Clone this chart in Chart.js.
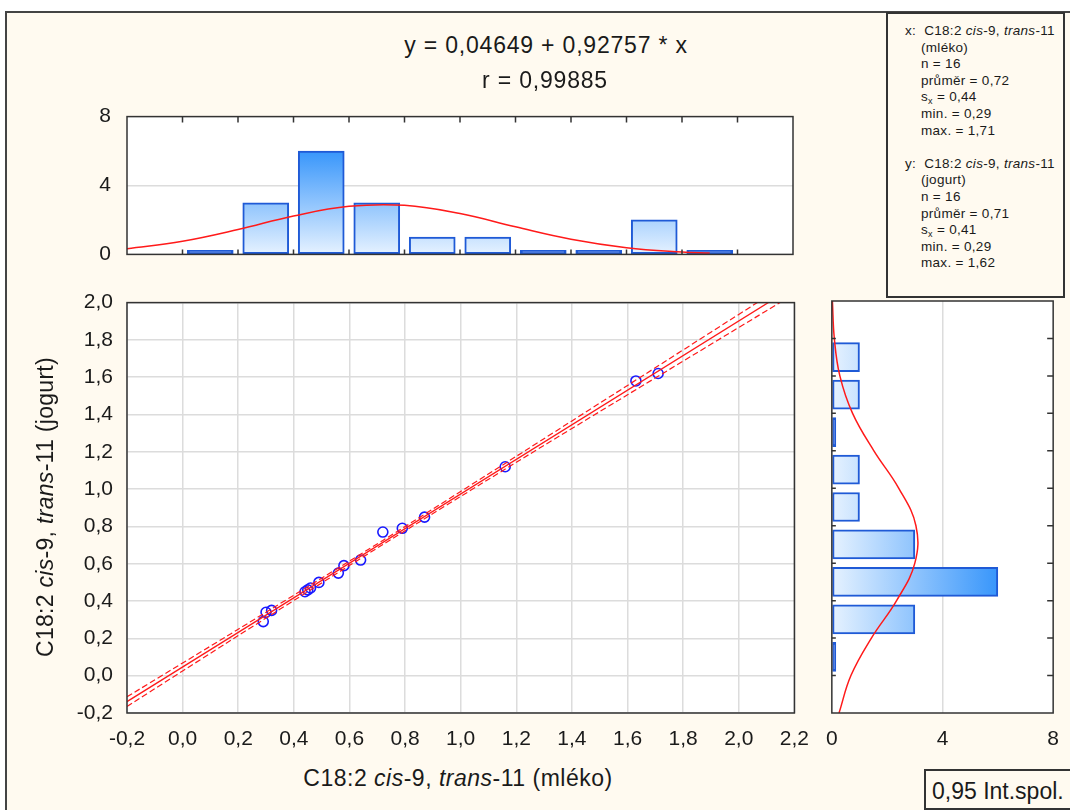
<!DOCTYPE html>
<html>
<head>
<meta charset="utf-8">
<script src="https://cdn.jsdelivr.net/npm/chart.js@4.4.1/dist/chart.umd.min.js"></script>
<style>
  body { margin: 0; width: 1070px; height: 810px; overflow: hidden; position: relative; background: #fff;
         font-family: "Liberation Sans", Arial, sans-serif; color: #1a1a1a; }
  #panel { position: absolute; left: 5px; top: 11px; width: 1070px; height: 810px; background: #fffaf0;
           border-left: 2px solid #444; border-top: 2px solid #444; }
  canvas { position: absolute; }
  .c { position: absolute; transform: translate(-50%, -50%); white-space: nowrap; }
  #stats { position: absolute; left: 886px; top: 12px; width: 175px; height: 273px; background: #fffaf0;
           border: 2px solid #333; overflow: hidden; font-size: 13.5px; letter-spacing: 0.3px; line-height: 16.6px; padding-top: 9px;
           box-sizing: content-box; }
  #stats div { white-space: nowrap; padding-left: 33px; }
  #stats div.h { padding-left: 17px; }
  #stats sub { font-size: 9px; line-height: 0; position: relative; top: 3px; vertical-align: baseline; }
  #ci { position: absolute; left: 924px; top: 769px; width: 160px; height: 41px; border: 2px solid #333;
        background: #fffaf0; font-size: 23px; line-height: 41px; padding-left: 6px; box-sizing: border-box; }
</style>
</head>
<body>
<div id="panel"></div>

<canvas id="topHist" width="763" height="195" style="left:60px;top:88px"></canvas>
<canvas id="scatter" width="763" height="484" style="left:60px;top:276px"></canvas>
<canvas id="rightHist" width="261" height="470" style="left:812px;top:290px"></canvas>

<div class="c" style="left:546px;top:45px;font-size:23px;letter-spacing:0.8px">y = 0,04649 + 0,92757 * x</div>
<div class="c" style="left:545px;top:80px;font-size:23px;letter-spacing:0.8px">r = 0,99885</div>
<div class="c" style="left:458px;top:778px;font-size:23px;letter-spacing:0.5px">C18:2 <i>cis</i>-9, <i>trans</i>-11 (mléko)</div>
<div class="c" style="left:45px;top:507px;font-size:23px;letter-spacing:0.3px;transform:translate(-50%,-50%) rotate(-90deg)">C18:2 <i>cis</i>-9, <i>trans</i>-11 (jogurt)</div>

<div id="stats">
  <div class="h">x:&nbsp; C18:2 <i>cis</i>-9, <i>trans</i>-11</div>
  <div>(mléko)</div>
  <div>n = 16</div>
  <div>průměr = 0,72</div>
  <div>s<sub>x</sub> = 0,44</div>
  <div>min. = 0,29</div>
  <div>max. = 1,71</div>
  <div>&nbsp;</div>
  <div class="h">y:&nbsp; C18:2 <i>cis</i>-9, <i>trans</i>-11</div>
  <div>(jogurt)</div>
  <div>n = 16</div>
  <div>průměr = 0,71</div>
  <div>s<sub>x</sub> = 0,41</div>
  <div>min. = 0,29</div>
  <div>max. = 1,62</div>
</div>
<div id="ci">0,95 Int.spol.</div>

<script>
// Scatter data (mléko vs jogurt)
const xValues = [0.29, 0.30, 0.32, 0.44, 0.45, 0.46, 0.49, 0.56, 0.58, 0.64, 0.72, 0.79, 0.87, 1.16, 1.63, 1.71];
const yValues = [0.29, 0.34, 0.35, 0.45, 0.46, 0.47, 0.50, 0.55, 0.59, 0.62, 0.77, 0.79, 0.85, 1.12, 1.58, 1.62];

// Regression line from the printed equation
const intercept = 0.04649;
const slope = 0.92757;
const regX = [-0.2, 2.2];

// 95% confidence band
const bandX = [-0.2, 0.2, 0.72, 1.2, 1.6, 2.2];
const bandUpper = [-0.113, 0.249, 0.725, 1.176, 1.556, 2.127];
const bandLower = [-0.165, 0.215, 0.703, 1.144, 1.506, 2.047];

// Top histogram (x)
const xBinCenters = [0.1, 0.3, 0.5, 0.7, 0.9, 1.1, 1.3, 1.5, 1.7, 1.9];
const xCounts = [0, 3, 6, 3, 1, 1, 0, 0, 2, 0];
const xCurveAt = [-0.2, 0.0, 0.2, 0.4, 0.6, 0.8, 1.0, 1.2, 1.4, 1.6, 1.8, 1.9];
const xCurveVal = [0.33, 0.76, 1.44, 2.23, 2.79, 2.85, 2.37, 1.60, 0.88, 0.39, 0.14, 0.08];

// Right histogram (y)
const yBinCenters = [0.1, 0.3, 0.5, 0.7, 0.9, 1.1, 1.3, 1.5, 1.7];
const yCounts = [0, 3, 6, 3, 1, 1, 0, 1, 1];
const yCurveAt = [-0.2, 0.0, 0.2, 0.4, 0.6, 0.8, 1.0, 1.2, 1.4, 1.6, 1.8, 2.0];
const yCurveVal = [0.26, 0.69, 1.43, 2.34, 3.00, 3.04, 2.42, 1.52, 0.75, 0.29, 0.09, 0.02];

// Tick labels
const xTickValues = [-0.2, 0.0, 0.2, 0.4, 0.6, 0.8, 1.0, 1.2, 1.4, 1.6, 1.8, 2.0, 2.2];
const yTickValues = [-0.2, 0.0, 0.2, 0.4, 0.6, 0.8, 1.0, 1.2, 1.4, 1.6, 1.8, 2.0];
const countTicks = [0, 4, 8];
const innerTickValues = [0.0, 0.2, 0.4, 0.6, 0.8, 1.0, 1.2, 1.4, 1.6, 1.8, 2.0];

const tickFont = { family: '"Liberation Sans", Arial, sans-serif', size: 21 };
const tickColor = '#1a1a1a';
const redLine = '#ff1a1a';
const barBorder = '#1f5ad6';

function fmt(v) {
    return Number(v).toFixed(1).replace('.', ',');
}

function fixTicks(values) {
    return scale => { scale.ticks = values.map(v => ({ value: v })); };
}

// White plot area, dark frame and small inward ticks
const framePlugin = {
    id: 'frame',
    beforeDraw(chart) {
        const a = chart.chartArea;
        const ctx = chart.ctx;
        ctx.save();
        ctx.fillStyle = '#ffffff';
        ctx.fillRect(a.left, a.top, a.right - a.left, a.bottom - a.top);
        ctx.restore();
    },
    afterDraw(chart, args, opts) {
        const a = chart.chartArea;
        const ctx = chart.ctx;
        ctx.save();
        ctx.strokeStyle = '#333';
        ctx.lineWidth = 1.5;
        ctx.beginPath();
        (opts.xTicks || []).forEach(v => {
            const px = chart.scales.x.getPixelForValue(v);
            ctx.moveTo(px, a.top); ctx.lineTo(px, a.top + 6);
            ctx.moveTo(px, a.bottom); ctx.lineTo(px, a.bottom - 5);
        });
        (opts.yTicks || []).forEach(v => {
            const py = chart.scales.y.getPixelForValue(v);
            ctx.moveTo(a.right, py); ctx.lineTo(a.right - 6, py);
            ctx.moveTo(a.left, py); ctx.lineTo(a.left + 4, py);
        });
        ctx.stroke();
        ctx.strokeRect(a.left, a.top, a.right - a.left, a.bottom - a.top);
        ctx.restore();
    }
};

function verticalGradient(context) {
    const chart = context.chart;
    if (context.raw && context.raw.y === 0) return barBorder;
    if (!chart.chartArea) return '#9ccaf8';
    const ys = chart.scales.y;
    const g = chart.ctx.createLinearGradient(0, ys.getPixelForValue(0), 0, ys.getPixelForValue(6));
    g.addColorStop(0, '#e6f2ff');
    g.addColorStop(1, '#3896fb');
    return g;
}

function horizontalGradient(context) {
    const chart = context.chart;
    if (context.raw && context.raw.x === 0) return barBorder;
    if (!chart.chartArea) return '#9ccaf8';
    const xs = chart.scales.x;
    const g = chart.ctx.createLinearGradient(xs.getPixelForValue(0), 0, xs.getPixelForValue(6), 0);
    g.addColorStop(0, '#e6f2ff');
    g.addColorStop(1, '#3896fb');
    return g;
}

const common = {
    responsive: false,
    animation: false,
    devicePixelRatio: 1,
    events: []
};

// Top histogram
new Chart(document.getElementById('topHist'), {
    type: 'bar',
    data: {
        datasets: [{
            type: 'line',
            data: xCurveAt.map((x, i) => ({ x: x, y: xCurveVal[i] })),
            borderColor: redLine,
            borderWidth: 1.5,
            pointRadius: 0,
            tension: 0.4,
            order: 0
        }, {
            data: xBinCenters.map((x, i) => ({ x: x, y: xCounts[i] })),
            backgroundColor: verticalGradient,
            borderColor: barBorder,
            borderWidth: 2,
            borderSkipped: false,
            barThickness: 46,
            minBarLength: 4,
            order: 1
        }]
    },
    options: {
        ...common,
        layout: { padding: { left: 0, top: 5, right: 30, bottom: 5 } },
        plugins: { legend: { display: false }, tooltip: { enabled: false }, frame: { xTicks: innerTickValues } },
        scales: {
            x: { type: 'linear', min: -0.2, max: 2.2, offset: false, display: false, grid: { offset: false } },
            y: {
                type: 'linear', min: 0, max: 8,
                afterBuildTicks: fixTicks(countTicks),
                afterFit: s => { s.width = 67; },
                border: { display: false },
                grid: { drawTicks: false, lineWidth: 1.5, color: c => c.tick && c.tick.value === 4 ? '#dcdcdc' : 'rgba(0,0,0,0)' },
                ticks: { padding: 16, font: tickFont, color: tickColor }
            }
        }
    },
    plugins: [framePlugin]
});

// Scatter with regression line and confidence band
new Chart(document.getElementById('scatter'), {
    type: 'scatter',
    data: {
        datasets: [{
            data: regX.map(x => ({ x: x, y: intercept + slope * x })),
            showLine: true,
            borderColor: redLine,
            borderWidth: 1.3,
            pointRadius: 0,
            order: 0
        }, {
            data: bandX.map((x, i) => ({ x: x, y: bandUpper[i] })),
            showLine: true,
            borderColor: redLine,
            borderWidth: 1.2,
            borderDash: [6, 3],
            pointRadius: 0,
            tension: 0.2,
            order: 0
        }, {
            data: bandX.map((x, i) => ({ x: x, y: bandLower[i] })),
            showLine: true,
            borderColor: redLine,
            borderWidth: 1.2,
            borderDash: [6, 3],
            pointRadius: 0,
            tension: 0.2,
            order: 0
        }, {
            data: xValues.map((x, i) => ({ x: x, y: yValues[i] })),
            pointStyle: 'circle',
            pointRadius: 5,
            borderColor: '#1a1aff',
            backgroundColor: 'rgba(0,0,0,0)',
            borderWidth: 1.6,
            order: 1
        }]
    },
    options: {
        ...common,
        layout: { padding: { left: 0, top: 5, right: 5, bottom: 0 } },
        plugins: { legend: { display: false }, tooltip: { enabled: false }, frame: {} },
        scales: {
            x: {
                type: 'linear', min: -0.2, max: 2.2,
                afterBuildTicks: fixTicks(xTickValues),
                afterFit: s => { s.height = 47; },
                border: { display: false },
                grid: { drawTicks: false, color: '#dcdcdc', lineWidth: 1.5 },
                ticks: { padding: 14, font: tickFont, color: tickColor, maxRotation: 0, autoSkip: false, callback: v => fmt(v) }
            },
            y: {
                type: 'linear', min: -0.2, max: 2.0,
                afterBuildTicks: fixTicks(yTickValues),
                afterFit: s => { s.width = 67; },
                border: { display: false },
                grid: { drawTicks: false, color: '#dcdcdc', lineWidth: 1.5 },
                ticks: { padding: 14, font: tickFont, color: tickColor, autoSkip: false, callback: v => fmt(v) }
            }
        }
    },
    plugins: [framePlugin]
});

// Right histogram
new Chart(document.getElementById('rightHist'), {
    type: 'bar',
    data: {
        datasets: [{
            type: 'line',
            data: yCurveAt.map((y, i) => ({ x: yCurveVal[i], y: y })),
            borderColor: redLine,
            borderWidth: 1.5,
            pointRadius: 0,
            tension: 0.4,
            order: 0
        }, {
            data: yBinCenters.map((y, i) => ({ x: yCounts[i], y: y })),
            backgroundColor: horizontalGradient,
            borderColor: barBorder,
            borderWidth: 2,
            borderSkipped: false,
            barThickness: 29,
            minBarLength: 4,
            order: 1
        }]
    },
    options: {
        ...common,
        indexAxis: 'y',
        layout: { padding: { left: 5, top: 11, right: 5, bottom: 0 } },
        plugins: { legend: { display: false }, tooltip: { enabled: false }, frame: { yTicks: innerTickValues.slice(0, 10) } },
        scales: {
            y: { type: 'linear', min: -0.2, max: 2.0, offset: false, display: false, grid: { offset: false } },
            x: {
                type: 'linear', min: 0, max: 8,
                afterBuildTicks: fixTicks(countTicks),
                afterFit: s => { s.height = 47; },
                border: { display: false },
                grid: { drawTicks: false, lineWidth: 1.5, color: c => c.tick && c.tick.value === 4 ? '#dcdcdc' : 'rgba(0,0,0,0)' },
                ticks: { padding: 14, font: tickFont, color: tickColor, maxRotation: 0, autoSkip: false }
            }
        }
    },
    plugins: [framePlugin]
});
</script>
</body>
</html>
